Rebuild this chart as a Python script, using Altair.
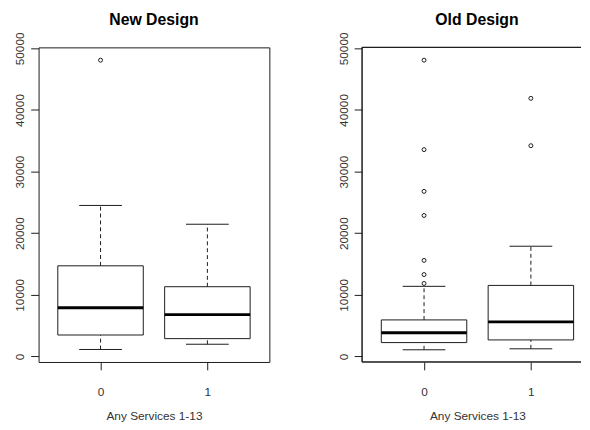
import altair as alt
import pandas as pd

# ---- data ----
panel_titles = ["New Design", "Old Design"]
groups = [0, 1]

new_lower = [1120, 1970]
new_q1 = [3470, 2880]
new_median = [7900, 6780]
new_q3 = [14700, 11310]
new_upper = [24500, 21450]
new_out_group = [0]
new_out_value = [48080]

old_lower = [1070, 1230]
old_q1 = [2240, 2670]
old_median = [3840, 5600]
old_q3 = [5920, 11520]
old_upper = [11370, 17880]
old_out_group = [0, 0, 0, 0, 0, 0, 0, 1, 1]
old_out_value = [48080, 33560, 26790, 22870, 15580, 13280, 11840, 41890, 34200]

y_ticks = [0, 10000, 20000, 30000, 40000, 50000]
x_ticks = [0, 1]
x_title = "Any Services 1-13"

FONT = "Liberation Sans"
INK = "#1a1a1a"
TXT = "#333333"
PX_PER_UNIT = 234 / 2.16
H = 319
Y_DOMAIN = [-910, 50160]


def make_panel(title, lower, q1, med, q3, upper, out_g, out_v, width, cropped, dx):
    box = pd.DataFrame({
        "group": groups, "lo": lower, "q1": q1, "med": med, "q3": q3, "hi": upper,
    })
    box["left"] = box["group"] - 0.4
    box["right"] = box["group"] + 0.4
    box["capl"] = box["group"] - 0.2
    box["capr"] = box["group"] + 0.2
    outs = pd.DataFrame({"group": out_g, "value": out_v})

    xmax = -0.58 + width / PX_PER_UNIT
    xs = alt.Scale(domain=[-0.58, xmax], nice=False, zero=False)
    ys = alt.Scale(domain=Y_DOMAIN, nice=False, zero=False)

    x_axis = alt.Axis(values=x_ticks, title=x_title, grid=False, domain=False,
                      tickSize=8, tickColor=INK, labelPadding=17,
                      labelFont=FONT, labelFontSize=12, labelColor=TXT,
                      titleFont=FONT, titleFontSize=12, titleFontWeight="normal",
                      titleColor=TXT, titleX=117, titleY=58,
                      titleBaseline="alphabetic", titleAlign="center")
    y_axis = alt.Axis(values=y_ticks, title=None, grid=False, domain=False,
                      tickSize=8, tickColor=INK, labelPadding=7,
                      labelAngle=270, labelAlign="center", labelBaseline="alphabetic",
                      labelFont=FONT, labelFontSize=12, labelColor=TXT, format="d")

    def X(f):
        return alt.X(f, scale=xs, axis=x_axis, title=x_title)

    def Y(f):
        return alt.Y(f, scale=ys, axis=y_axis, title=None)

    base = alt.Chart(box)
    rect = base.mark_rect(fill="white", stroke=INK, strokeWidth=1).encode(
        x=X("left:Q"), x2="right", y=Y("q1:Q"), y2="q3")
    wu = base.mark_rule(color=INK, strokeWidth=1, strokeDash=[4, 3]).encode(
        x=X("group:Q"), y=Y("q3:Q"), y2="hi")
    wl = base.mark_rule(color=INK, strokeWidth=1, strokeDash=[4, 3]).encode(
        x=X("group:Q"), y=Y("lo:Q"), y2="q1")
    cu = base.mark_rule(color=INK, strokeWidth=1).encode(
        x=X("capl:Q"), x2="capr", y=Y("hi:Q"))
    cl = base.mark_rule(color=INK, strokeWidth=1).encode(
        x=X("capl:Q"), x2="capr", y=Y("lo:Q"))
    md = base.mark_rule(color="black", strokeWidth=3).encode(
        x=X("left:Q"), x2="right", y=Y("med:Q"))
    pts = alt.Chart(outs).mark_point(shape="circle", filled=False, size=16,
                                     color=INK, strokeWidth=1, opacity=1).encode(
        x=X("group:Q"), y=Y("value:Q"))

    layers = [rect, wu, wl, cu, cl, md, pts]
    if cropped:
        frame = alt.Chart(box).mark_rule(color=INK, strokeWidth=1)
        layers += [
            frame.encode(x=alt.value(0), x2=alt.value(width), y=alt.value(0)),
            frame.encode(x=alt.value(0), y=alt.value(0), y2=alt.value(H)),
            frame.encode(x=alt.value(0), x2=alt.value(width), y=alt.value(H)),
        ]
        view = alt.ViewBackground(stroke="transparent")
    else:
        view = alt.ViewBackground(stroke=INK, strokeWidth=1)

    return alt.layer(*layers).properties(
        width=width, height=H, view=view,
        title=alt.TitleParams(text=title, font=FONT, fontSize=16, fontWeight="bold",
                              color="black", anchor="middle", baseline="alphabetic",
                              offset=-9, frame="group", dx=dx))


left = make_panel(panel_titles[0], new_lower, new_q1, new_median, new_q3, new_upper,
                  new_out_group, new_out_value, 234, False, 0)
right = make_panel(panel_titles[1], old_lower, old_q1, old_median, old_q3, old_upper,
                   old_out_group, old_out_value, 222, True, 5.5)

chart = alt.hconcat(left, right, spacing=94, bounds="flush").properties(
    padding={"left": 5, "top": 0, "right": 0, "bottom": 2},
    background="white",
)

chart.save("out.html", embed_options={"renderer": "svg", "actions": False})
